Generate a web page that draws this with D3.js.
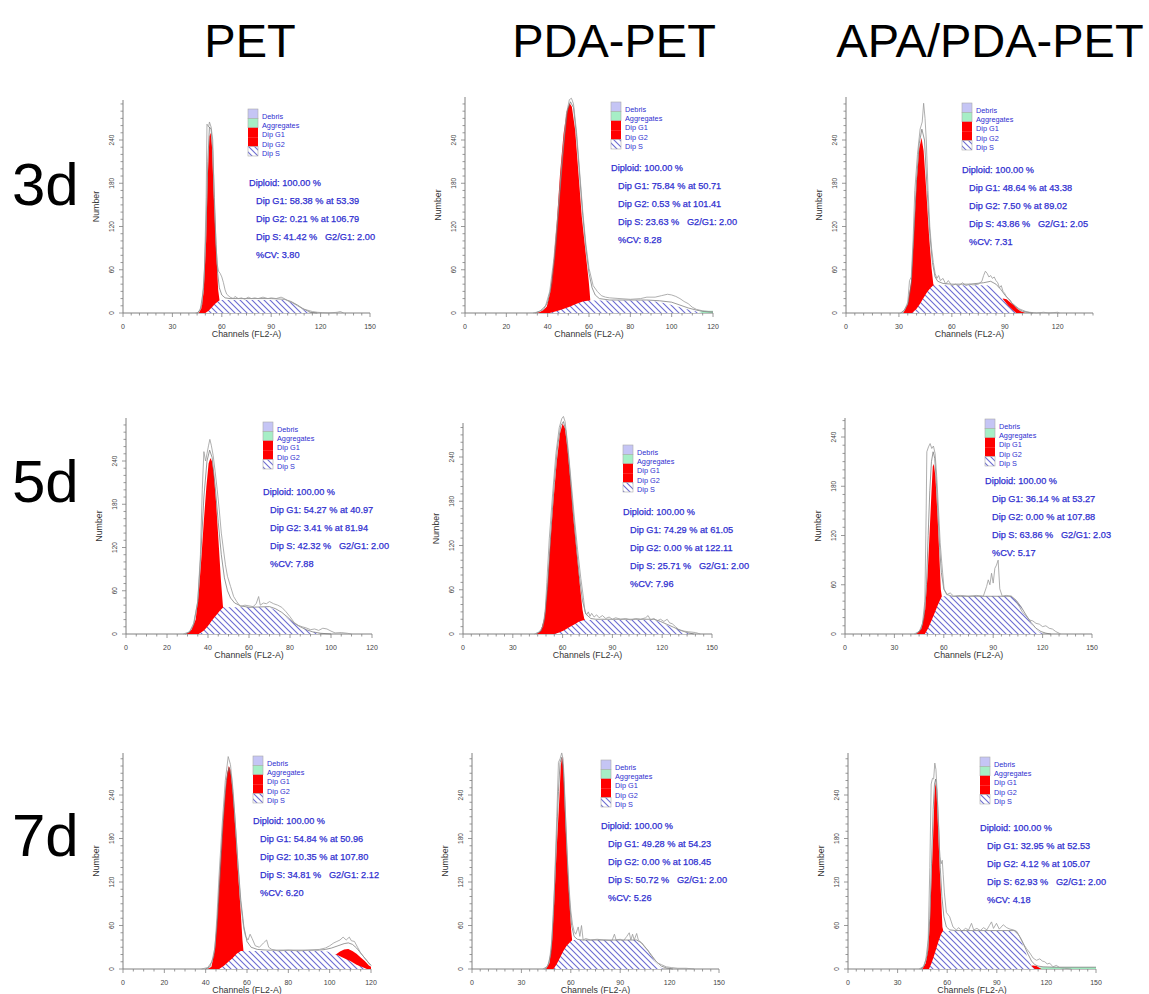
<!DOCTYPE html>
<html>
<head>
<meta charset="utf-8">
<script src="https://cdn.jsdelivr.net/npm/d3@7"></script>
<style>
  body { margin: 0; background: #fff; }
  svg { display: block; }
  text { font-family: "Liberation Sans", Arial, sans-serif; }
</style>
</head>
<body>
<svg id="chart" width="1149" height="994"></svg>
<script>
// ---- labels ----
var columns = ["PET", "PDA-PET", "APA/PDA-PET"];
var rows = ["3d", "5d", "7d"];
var legendLabels = ["Debris", "Aggregates", "Dip G1", "Dip G2", "Dip S"];
var yTickLabels = [0, 60, 120, 180, 240];

// per panel (row by row): x axis end and label step
var xMax  = [150, 120, 140, 120, 150, 150, 120, 150, 150];
var xStep = [30, 20, 30, 20, 30, 30, 20, 30, 30];

// ---- 3d ----
var g1_3d_PET = [[46,0],[47.5,6],[49,30],[50.5,100],[51.5,190],[52.5,245],[53.2,250],[54,232],[55,170],[56.5,90],[57.8,32],[58.6,18],[58.6,0]];
var s_3d_PET  = [[50,0],[52,3],[54,8],[56,13],[58,16.5],[59.5,18],[98,18],[102,15],[106,10],[110,4],[113.5,0]];
var raw_3d_PET = [[44,0],[46,1],[48,12],[49.5,60],[50.5,160],[51,262],[52,258],[52.5,265],[53.5,258],[54.5,240],[55.5,150],[56.5,95],[57.2,68],[58,58],[59,55],[60,50],[61,42],[62,32],[63,26],[65,22],[67,20],[68,23],[70,20],[72,21],[74,19],[76,22],[78,20],[80,21],[82,20],[85,22],[88,20],[90,21],[93,20],[96,22],[98,20],[100,17],[103,14],[106,10],[109,6],[112,4],[115,2],[118,1],[121,0.5],[125,0],[130,1],[132,2],[134,0]];
var fit_3d_PET = [[45,0],[47,5],[49,35],[50.5,120],[51.5,210],[52.5,258],[53.5,255],[54.5,225],[55.5,160],[56.5,95],[57.5,55],[58.5,35],[60,25],[62,21],[65,20],[90,20],[98,19],[102,16],[106,11],[110,5],[114,1],[118,0]];
var stats_3d_PET = ["Diploid: 100.00 %", "Dip G1: 58.38 % at 53.39", "Dip G2: 0.21 % at 106.79", "Dip S: 41.42 %   G2/G1: 2.00", "%CV: 3.80"];

var g1_3d_PDA = [[34.7,0],[36,1],[38,4],[39.6,9],[41.2,28],[42.8,69],[44.4,125],[46,194],[47.7,249],[49.3,281],[50.6,291],[51.7,286],[53.3,254],[54.9,194],[56.5,134],[58.2,88],[59.8,46],[60.3,30],[60.6,18.5],[60.6,0]];
var s_3d_PDA  = [[41,0],[45,3],[50,8],[54,13],[57,16],[60,17.5],[88,17.5],[92,16],[96,14],[100,11],[104,8],[108,5],[112,2],[115,0]];
var agg_3d_PDA = [[112,0],[114,2],[116,3],[120,3],[120,0]];
var raw_3d_PDA = [[33,0],[36,2],[39,10],[41,30],[43,75],[45,140],[47,215],[49,275],[50.5,296],[51.5,298],[52.5,290],[54,250],[55.5,195],[57,140],[58.5,95],[60,62],[61,50],[62,38],[64,30],[66,24],[68,22],[70,21],[75,20],[80,19],[85,20],[88,22],[92,22],[95,24],[98,26],[100,25],[102,23],[104,20],[106,16],[108,13],[110,8],[112,5],[115,3],[118,2],[120,2]];
var fit_3d_PDA = [[34,0],[38,5],[40,15],[42,40],[44,95],[46,170],[48,240],[49.5,280],[51,293],[52.5,285],[54,245],[55.5,190],[57,135],[58.5,90],[60,55],[61.5,35],[63,25],[65,20],[70,18],[88,18],[94,17],[100,15],[104,11],[108,7],[112,4],[116,2],[120,1]];
var stats_3d_PDA = ["Diploid: 100.00 %", "Dip G1: 75.84 % at 50.71", "Dip G2: 0.53 % at 101.41", "Dip S: 23.63 %   G2/G1: 2.00", "%CV: 8.28"];

var g1_3d_APA = [[32.5,0],[35,12],[37,45],[38.5,110],[40,180],[41.5,228],[42.8,243],[44,225],[45.5,170],[47,110],[48.5,62],[49.5,40],[50.5,37],[50.5,0]];
var g2_3d_APA = [[86,0],[87,17],[89,20],[91,19],[93,15],[95,11],[97,6],[99,2.5],[101.5,0]];
var s_3d_APA  = [[37.5,0],[40,6],[42,13],[44,21],[46,29],[48,35],[49.5,38.5],[80,38.5],[83,35],[86,29],[89,19],[92,10],[94.5,4],[96.5,0]];
var raw_3d_APA = [[31,0],[33,3],[35,15],[36,45],[37,50],[38,100],[39,170],[40.5,220],[42,255],[43.2,265],[44,291],[44.8,270],[45.5,240],[46.5,170],[47.5,120],[48.5,90],[49.5,70],[50.5,55],[51.5,48],[52.5,52],[53.5,45],[55,48],[56.5,40],[58,45],[60,38],[62,40],[64,38],[66,42],[68,38],[70,40],[72,39],[75,40],[77,44],[78,52],[79,58],[80,55],[81,50],[82,52],[83,48],[84,50],[85,45],[86,42],[87,35],[88,38],[89,30],[90,27],[91,22],[92,20],[93,18],[94,14],[95,12],[96,10],[98,6],[100,4],[102,2],[104,1],[108,0],[112,1],[115,0],[120,1],[121,0]];
var fit_3d_APA = [[31,0],[33,4],[35,12],[37,40],[38.5,110],[40,185],[41.5,235],[43,255],[44.5,240],[46,170],[47.5,110],[49,70],[50.5,50],[52,44],[55,41],[60,40],[70,40],[78,42],[82,44],[85,40],[88,32],[90,25],[92,20],[94,14],[96,9],[98,5],[100,2.5],[103,1],[106,0]];
var stats_3d_APA = ["Diploid: 100.00 %", "Dip G1: 48.64 % at 43.38", "Dip G2: 7.50 % at 89.02", "Dip S: 43.86 %   G2/G1: 2.05", "%CV: 7.31"];

// ---- 5d ----
var g1_5d_PET = [[29.5,0],[32,6],[34,20],[35.5,57],[36.7,103],[38,158],[39.2,204],[40.3,237],[41.2,244],[42,239],[42.8,223],[44,180],[45.2,126],[46.3,75],[47.3,38],[47.8,36],[47.8,0]];
var s_5d_PET  = [[35.5,0],[38,5],[40,11],[42,19],[44,26],[46,33],[47.5,37],[70,37],[73,33],[76,28],[79,22],[82,15],[85,10],[88,6],[91,3],[95,0]];
var raw_5d_PET = [[28,0],[31,3],[33,15],[35,45],[36.3,110],[37.2,200],[38,253],[38.8,240],[39.5,250],[40.3,262],[40.9,270],[41.6,262],[42.5,248],[43.5,225],[44.5,200],[45.5,172],[46.5,140],[47.5,118],[48.5,96],[49.5,80],[51,66],[52.5,52],[54,45],[55.8,38],[58,40],[60,39],[62,38],[63.5,42],[64.7,52],[65.5,40],[67,43],[68.5,42],[70,45],[72,42],[74,40],[76,37],[78,31],[80,24],[82,16],[84,12],[86,10],[88.3,8],[90,6],[92,7],[94,5],[96,8],[98,7],[100,4],[102,1.5],[105,2],[108,1],[110,0]];
var fit_5d_PET = [[29,0],[31,3],[33,12],[35,45],[36.5,110],[38,190],[39.5,240],[40.8,255],[42,245],[43.5,205],[45,155],[46.5,110],[48,78],[49.5,60],[51,50],[53,43],[56,39],[60,37],[70,38],[73,35],[76,30],[79,23],[82,15],[85,10],[88,6],[91,3],[95,1],[100,0]];
var stats_5d_PET = ["Diploid: 100.00 %", "Dip G1: 54.27 % at 40.97", "Dip G2: 3.41 % at 81.94", "Dip S: 42.32 %   G2/G1: 2.00", "%CV: 7.88"];

var g1_5d_PDA = [[44.5,0],[47,5],[49,22],[50.7,60],[52.3,114],[54.4,178],[56.4,232],[58.4,272],[60,285],[61.4,279],[63,250],[64.8,205],[66.4,159],[68.5,110],[70.5,64],[72,33],[73,21],[73.5,19],[73.5,0]];
var s_5d_PDA  = [[55,0],[58,2],[61,5],[64,9],[67,13],[70,17],[73,19],[115,19],[119,16],[123,12],[127,8],[131,5],[134,2],[137,0]];
var raw_5d_PDA = [[43,0],[46,3],[48,10],[49.5,30],[50.5,70],[52,130],[54,190],[56,245],[58,280],[59.5,292],[60.5,295],[61.5,288],[63,258],[65,210],[67,160],[69,115],[71,75],[72.5,50],[73.5,30],[74.5,26],[75.5,30],[76.5,24],[77.5,28],[79,23],[80.5,26],[82,22],[84,25],[86,21],[88,23],[90,20],[92,22],[95,20],[98,21],[101,19],[104,21],[107,20],[110,22],[111.5,25],[113,19],[115,21],[117,18],[119,20],[121,17],[123,20],[124.5,15],[126,14],[128,10],[130,6],[133,4],[136,3],[140,2],[143,0]];
var fit_5d_PDA = [[44,0],[47,4],[49,18],[51,65],[53,140],[55,205],[57,255],[59,283],[60.5,288],[62,275],[64,230],[66,175],[68,125],[70,80],[72,45],[74,27],[77,21],[80,20],[115,20],[119,17],[123,13],[127,9],[131,5],[135,2],[139,0]];
var stats_5d_PDA = ["Diploid: 100.00 %", "Dip G1: 74.29 % at 61.05", "Dip G2: 0.00 % at 122.11", "Dip S: 25.71 %   G2/G1: 2.00", "%CV: 7.96"];

var g1_5d_APA = [[43.5,0],[46.5,7],[48.7,30],[50.1,70],[51.3,120],[52.5,172],[53.3,204],[54,207],[54.9,192],[56.2,143],[57.4,91],[58.2,54],[58.8,46],[59,46],[59,0]];
var s_5d_APA  = [[48.5,0],[50.5,7],[52.5,16],[54.5,26],[56.5,36],[58.8,46],[101.5,46],[104,41],[106.5,34],[109,26],[111.5,17.5],[114,10],[116.5,5],[120,0]];
var raw_5d_APA = [[42,0],[45,3],[47,12],[48.5,40],[49.3,150],[49.7,222],[50.7,228],[51.7,232],[52.7,226],[53.7,229],[54.7,220],[55.7,192],[56.8,151],[57.8,111],[58.8,86],[60.2,54],[61.8,48],[63.9,50],[66,46],[70,47],[75,46],[80,47],[84,46],[86,58],[87,66],[88,60],[89,74],[90,62],[91,80],[92,84],[93,90],[94,55],[95.5,46],[98,47],[101,46],[104,40],[106,33],[108,26],[110,22],[112,17],[114,16],[116,13],[118,12],[120,9],[122,10],[124,7],[126,6],[128,3],[131,0]];
var fit_5d_APA = [[43,0],[46,5],[48,20],[49.5,60],[50.5,120],[51.5,175],[52.5,210],[53.5,222],[54.5,214],[55.5,185],[56.5,145],[57.5,105],[58.5,75],[60,55],[62,48],[65,46],[101,46],[104,41],[107,33],[110,23],[113,14],[116,7],[119,3],[122,1],[125,0]];
var stats_5d_APA = ["Diploid: 100.00 %", "Dip G1: 36.14 % at 53.27", "Dip G2: 0.00 % at 107.88", "Dip S: 63.86 %   G2/G1: 2.03", "%CV: 5.17"];

// ---- 7d ----
var g1_7d_PET = [[41,0],[42.8,3],[44.4,26],[45.6,72],[46.8,132],[48.1,192],[49.3,238],[50.4,270],[51.2,280],[52,275],[53.3,238],[54.6,183],[55.7,132],[56.9,82],[57.8,40],[58.3,25],[58.3,0]];
var g2_7d_PET = [[100,0],[101.5,18],[103,20],[105,24],[107,27],[109,27.6],[111,25],[113,21],[115,16],[117,11],[119,5],[120,3],[120,0]];
var s_7d_PET  = [[46.5,0],[49,5],[51,10],[53,15],[55,21],[57,25],[98,25],[101,22],[104,19],[107,15],[110,11],[113,6],[116,2.5],[118,0]];
var raw_7d_PET = [[38,0],[41,2],[43,10],[44.5,30],[45.5,75],[46.5,130],[48,200],[49.5,260],[50.9,293],[52,282],[53.3,245],[54.6,190],[55.7,140],[56.8,95],[57.8,70],[58.5,55],[59.3,45],[60.5,40],[61.5,48],[62.5,42],[64,32],[66,30],[68,36],[69.5,40],[70.5,30],[72,27],[75,25],[80,26],[85,25],[90,26],[95,27],[98,29],[100,32],[102,36],[103.5,38],[105,40],[106.5,44],[108,40],[109.5,44],[110.5,39],[112,38],[113.5,30],[115,22],[117,15],[119,8],[120,5]];
var fit_7d_PET = [[40,0],[42,3],[44,18],[45.5,60],[47,130],[48.5,205],[50,260],[51.3,278],[52.5,265],[54,215],[55.5,150],[57,95],[58.5,58],[60,38],[62,30],[65,27],[70,26],[95,26],[98,27],[101,29],[104,32],[107,35],[109,36],[111,34],[113,29],[115,22],[117,15],[119,8],[120,5]];
var stats_7d_PET = ["Diploid: 100.00 %", "Dip G1: 54.84 % at 50.96", "Dip G2: 10.35 % at 107.80", "Dip S: 34.81 %   G2/G1: 2.12", "%CV: 6.20"];

var g1_7d_PDA = [[45,0],[47,8],[48.5,35],[49.9,91],[51.5,169],[53.1,238],[53.9,280],[54.7,293],[55.5,280],[56.5,215],[57.9,146],[59.2,91],[60.2,54],[60.8,40],[61.3,38],[61.3,0]];
var s_7d_PDA  = [[49.5,0],[51.5,7],[53.5,16],[55.5,25],[57.5,32],[59.5,37],[61,40],[100,40],[103,35],[106,27],[109,17],[111.5,9],[114,3],[116,0]];
var raw_7d_PDA = [[43,0],[45.5,3],[47,10],[48.5,40],[50,110],[51.5,210],[52.5,285],[53.5,290],[54.5,298],[55.3,290],[56,260],[57,200],[58,150],[59,110],[60,80],[61,62],[62,52],[63,48],[64.5,58],[65.5,45],[66.5,60],[67.5,40],[69,42],[72,40],[76,41],[80,40],[85,39],[86.5,48],[87.5,40],[90,41],[92,39],[94,45],[95.5,50],[96.5,40],[97.5,48],[98.5,40],[100,49],[101,40],[103,36],[105,30],[107,25],[109,18],[111,12],[113,8],[115,6],[118,3],[121,2],[125,1],[130,1],[135,0]];
var fit_7d_PDA = [[44,0],[46,4],[48,22],[49.5,75],[51,160],[52.5,245],[53.5,285],[54.5,292],[55.5,275],[56.5,225],[57.5,170],[58.5,120],[59.5,85],[60.5,60],[62,45],[64,41],[67,40],[100,40],[103,36],[106,28],[109,19],[112,10],[115,4],[118,1.5],[122,0]];
var stats_7d_PDA = ["Diploid: 100.00 %", "Dip G1: 49.28 % at 54.23", "Dip G2: 0.00 % at 108.45", "Dip S: 50.72 %   G2/G1: 2.00", "%CV: 5.26"];

var g1_7d_APA = [[45,0],[47,8],[48.5,26],[49.5,63],[50.5,123],[51.5,183],[52.3,238],[52.9,257],[53.5,247],[54.5,192],[55.5,137],[56.5,91],[57.1,58],[57.6,53],[57.6,0]];
var g2_7d_APA = [[108,0],[110,4],[112,5],[114,4],[116,1.5],[117,0]];
var s_7d_APA  = [[49,0],[50.5,8],[52,18],[53.5,29],[55,40],[56.5,49],[57.5,52.5],[101,52.5],[103,47],[105,37],[107,26],[109,13],[111,4],[113,0]];
var agg_7d_APA = [[115,0],[116,2],[118,2.5],[150,2.5],[150,0]];
var raw_7d_APA = [[43,0],[45.5,3],[47,12],[48.5,40],[49.5,140],[50.3,255],[51.1,263],[51.8,262],[52.5,284],[53.2,275],[54,240],[54.8,200],[55.5,155],[56.3,145],[57,150],[57.6,130],[58.3,105],[59.5,78],[61.5,72],[63.5,58],[65.5,54],[67,57],[69,52],[71,56],[73,54],[74.7,63],[76,54],[78,56],[80,53],[82,57],[84,54],[85.5,60],[86.8,65],[88,56],[89.8,63],[91.5,55],[93.9,61],[96,57],[98,55],[100,54],[102,52],[104,44],[106,35],[108,28],[110,22],[112,15],[114,12],[116,14],[117.5,11],[119,10],[120.5,7],[122,8],[124,3],[126,5],[128,2],[131,1],[135,0]];
var fit_7d_APA = [[44,0],[46,4],[48,20],[49.5,70],[50.5,145],[51.5,220],[52.3,255],[53,262],[53.8,245],[54.8,195],[55.8,140],[56.8,100],[58,72],[59.5,58],[61.5,54],[65,53],[101,53],[103,48],[105,40],[107,30],[109,20],[111,11],[113,6],[115,4],[118,3],[125,2.5],[150,2.5]];
var stats_7d_APA = ["Diploid: 100.00 %", "Dip G1: 32.95 % at 52.53", "Dip G2: 4.12 % at 105.07", "Dip S: 62.93 %   G2/G1: 2.00", "%CV: 4.18"];

// ---- panel placement (pixels) ----
var layout = [
  {x0:123, x1:370,  base:313, y240:140, top:100, lx:248, ly:116, sx:249, sy:183},
  {x0:465, x1:713,  base:313, y240:140, top:97,  lx:611, ly:109, sx:611, sy:168},
  {x0:846, x1:1093, base:313, y240:140, top:97,  lx:962, ly:110, sx:962, sy:170},
  {x0:126, x1:372,  base:634, y240:461, top:418, lx:263, ly:429, sx:263, sy:492},
  {x0:463, x1:712,  base:634, y240:457, top:423, lx:623, ly:452, sx:623, sy:512},
  {x0:845, x1:1092, base:634, y240:437, top:418, lx:985, ly:426, sx:985, sy:481},
  {x0:123, x1:371,  base:969, y240:795, top:753, lx:253, ly:763, sx:253, sy:821},
  {x0:472, x1:719,  base:969, y240:795, top:753, lx:601, ly:767, sx:601, sy:826},
  {x0:848, x1:1096, base:969, y240:795, top:753, lx:980, ly:764, sx:980, sy:828}
];

var panels = [
  {g1:g1_3d_PET, s:s_3d_PET, raw:raw_3d_PET, fit:fit_3d_PET, stats:stats_3d_PET},
  {g1:g1_3d_PDA, s:s_3d_PDA, agg:agg_3d_PDA, raw:raw_3d_PDA, fit:fit_3d_PDA, stats:stats_3d_PDA},
  {g1:g1_3d_APA, g2:g2_3d_APA, s:s_3d_APA, raw:raw_3d_APA, fit:fit_3d_APA, stats:stats_3d_APA},
  {g1:g1_5d_PET, s:s_5d_PET, raw:raw_5d_PET, fit:fit_5d_PET, stats:stats_5d_PET},
  {g1:g1_5d_PDA, s:s_5d_PDA, raw:raw_5d_PDA, fit:fit_5d_PDA, stats:stats_5d_PDA},
  {g1:g1_5d_APA, s:s_5d_APA, raw:raw_5d_APA, fit:fit_5d_APA, stats:stats_5d_APA},
  {g1:g1_7d_PET, g2:g2_7d_PET, s:s_7d_PET, raw:raw_7d_PET, fit:fit_7d_PET, stats:stats_7d_PET},
  {g1:g1_7d_PDA, s:s_7d_PDA, raw:raw_7d_PDA, fit:fit_7d_PDA, stats:stats_7d_PDA},
  {g1:g1_7d_APA, g2:g2_7d_APA, s:s_7d_APA, agg:agg_7d_APA, raw:raw_7d_APA, fit:fit_7d_APA, stats:stats_7d_APA}
];

var RED = "#ff0000", BLUE_TXT = "#2f2fd0", AXIS = "#808080";

var svg = d3.select("#chart");

// hatch pattern for Dip S
var defs = svg.append("defs");
var pat = defs.append("pattern")
  .attr("id", "hatch")
  .attr("patternUnits", "userSpaceOnUse")
  .attr("width", 6).attr("height", 6);
pat.append("rect").attr("width", 6).attr("height", 6).attr("fill", "#fff");
pat.append("path")
  .attr("d", "M-1,-1L7,7M-1,5L1,7M5,-1L7,1")
  .attr("stroke", "#6c6cd2").attr("stroke-width", 1.1);

// column titles and row labels
svg.selectAll(".coltitle").data(columns).enter().append("text")
  .attr("class", "coltitle")
  .attr("x", function(d, i){ return [250, 614, 990][i]; })
  .attr("y", 57)
  .attr("text-anchor", "middle")
  .attr("font-size", 47)
  .text(function(d){ return d; });

svg.selectAll(".rowlabel").data(rows).enter().append("text")
  .attr("class", "rowlabel")
  .attr("x", 12)
  .attr("y", function(d, i){ return [205, 502, 856][i]; })
  .attr("font-size", 60)
  .text(function(d){ return d; });

panels.forEach(function(p, i){
  var L = layout[i];
  var x = d3.scaleLinear().domain([0, xMax[i]]).range([L.x0, L.x1]);
  var y = d3.scaleLinear().domain([0, 240]).range([L.base, L.y240]);
  var yTopVal = y.invert(L.top);
  var g = svg.append("g");

  var line = d3.line().x(function(d){ return x(d[0]); }).y(function(d){ return y(d[1]); });
  var area = function(pts){ return line(pts) + "Z"; };

  // axes
  g.append("line").attr("x1", L.x0).attr("x2", L.x1).attr("y1", L.base).attr("y2", L.base)
    .attr("stroke", AXIS).attr("stroke-width", 1);
  g.append("line").attr("x1", L.x0).attr("x2", L.x0).attr("y1", L.base).attr("y2", L.top)
    .attr("stroke", AXIS).attr("stroke-width", 1);

  var xMinor = d3.range(0, xMax[i] + 0.01, 5);
  g.selectAll(".xt").data(xMinor).enter().append("line")
    .attr("x1", function(d){ return x(d); }).attr("x2", function(d){ return x(d); })
    .attr("y1", L.base).attr("y2", function(d){ return L.base + (d % xStep[i] === 0 ? 4 : 2.5); })
    .attr("stroke", AXIS).attr("stroke-width", 0.8);
  var xLabels = d3.range(0, xMax[i] + 0.01, xStep[i]).filter(function(v){ return v <= xMax[i]; });
  g.selectAll(".xl").data(xLabels).enter().append("text")
    .attr("x", function(d){ return x(d); })
    .attr("y", L.base + 16)
    .attr("text-anchor", "middle")
    .attr("font-size", 7)
    .attr("fill", "#444")
    .text(function(d){ return d; });

  var yMinor = d3.range(0, yTopVal, 10);
  g.selectAll(".yt").data(yMinor).enter().append("line")
    .attr("x1", function(d){ return L.x0 - (d % 60 === 0 ? 4 : 2.5); }).attr("x2", L.x0)
    .attr("y1", function(d){ return y(d); }).attr("y2", function(d){ return y(d); })
    .attr("stroke", AXIS).attr("stroke-width", 0.8);
  g.selectAll(".yl").data(yTickLabels).enter().append("text")
    .attr("transform", function(d){ return "translate(" + (L.x0 - 9) + "," + y(d) + ") rotate(-90)"; })
    .attr("text-anchor", "middle")
    .attr("font-size", 6.5)
    .attr("fill", "#444")
    .text(function(d){ return d; });

  g.append("text")
    .attr("x", (L.x0 + L.x1) / 2).attr("y", L.base + 24)
    .attr("text-anchor", "middle").attr("font-size", 8.8).attr("fill", "#333")
    .text("Channels (FL2-A)");
  g.append("text")
    .attr("transform", "translate(" + (L.x0 - 24) + "," + ((L.base + L.top) / 2) + ") rotate(-90)")
    .attr("text-anchor", "middle").attr("font-size", 8.8).attr("fill", "#333")
    .text("Number");

  // model components
  if (p.agg) g.append("path").attr("d", area(p.agg)).attr("fill", "#9fe8bd");
  g.append("path").attr("d", area(p.g1)).attr("fill", RED);
  if (p.g2) g.append("path").attr("d", area(p.g2)).attr("fill", RED);
  g.append("path").attr("d", area(p.s)).attr("fill", "url(#hatch)");

  // fitted sum and raw histogram
  g.append("path").attr("d", line(p.fit)).attr("fill", "none")
    .attr("stroke", "#6e6e6e").attr("stroke-width", 0.7);
  g.append("path").attr("d", line(p.raw)).attr("fill", "none")
    .attr("stroke", "#9a9a9a").attr("stroke-width", 0.8);

  // legend
  var step = 9.4;
  var swFill = ["#c5c5f5", "#a6eec6", RED, RED, "url(#hatch)"];
  legendLabels.forEach(function(lab, k){
    g.append("rect")
      .attr("x", L.lx).attr("y", L.ly - 7 + k * step)
      .attr("width", 10).attr("height", step)
      .attr("fill", swFill[k])
      .attr("stroke", k < 2 || k === 4 ? "#aaa" : "none").attr("stroke-width", 0.6);
    g.append("text")
      .attr("x", L.lx + 14).attr("y", L.ly + k * step + 2.5)
      .attr("font-size", 7.3).attr("fill", BLUE_TXT)
      .text(lab);
  });

  // statistics text
  g.selectAll(".st").data(p.stats).enter().append("text")
    .attr("x", function(d, k){ return k === 0 ? L.sx : L.sx + 7; })
    .attr("y", function(d, k){ return L.sy + k * 18 + 3.3; })
    .attr("font-size", 9.2)
    .attr("fill", BLUE_TXT)
    .attr("stroke", BLUE_TXT).attr("stroke-width", 0.25)
    .style("white-space", "pre")
    .text(function(d){ return d; });
});
</script>
</body>
</html>
